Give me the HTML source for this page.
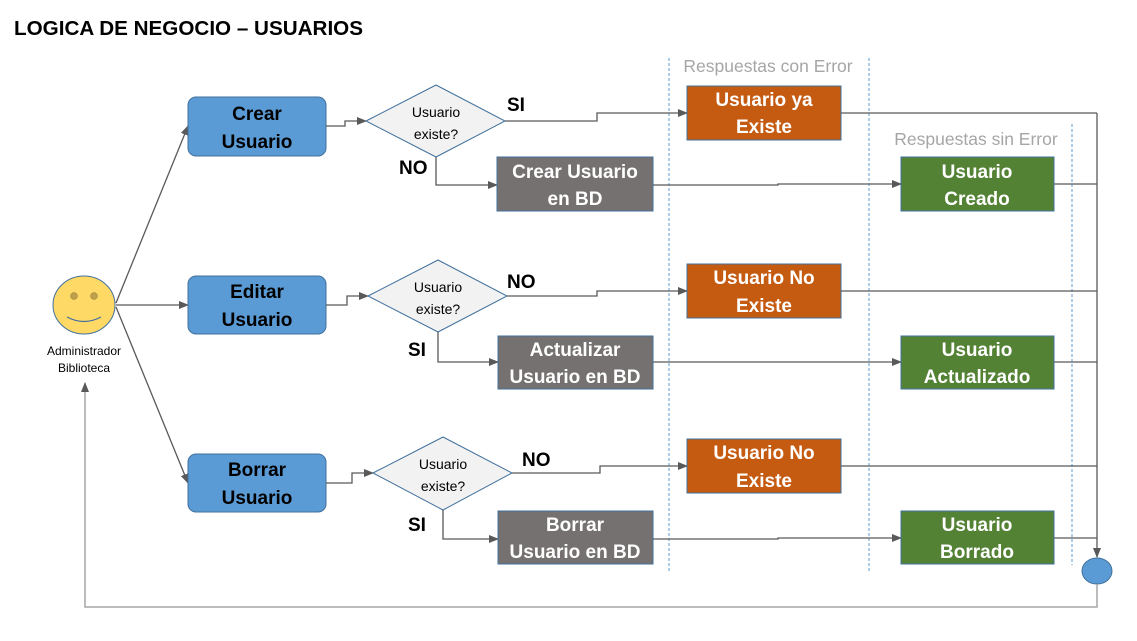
<!DOCTYPE html>
<html><head><meta charset="utf-8"><style>
body{margin:0;background:#fff}
svg{display:block}
text{font-family:"Liberation Sans",sans-serif}
.b{font-weight:bold;font-size:19px}
.w{fill:#fff;font-weight:bold;font-size:19px}
.ln{fill:none;stroke:#595959;stroke-width:1.3}
.dash{stroke:#5B9BD5;stroke-width:1;stroke-dasharray:3,2}
</style></head><body>
<svg width="1137" height="641" viewBox="0 0 1137 641">
<defs><marker id="a" markerWidth="10" markerHeight="8" refX="9" refY="4" orient="auto" markerUnits="userSpaceOnUse"><path d="M0,0L10,4L0,8z" fill="#595959"/></marker></defs>
<text x="14" y="35" font-weight="bold" font-size="20.5" textLength="349" lengthAdjust="spacingAndGlyphs">LOGICA DE NEGOCIO – USUARIOS</text>
<line class="dash" x1="669" y1="58" x2="669" y2="572"/>
<line class="dash" x1="869" y1="58" x2="869" y2="572"/>
<line class="dash" x1="1072" y1="124" x2="1072" y2="565"/>
<text x="768" y="72" text-anchor="middle" fill="#A6A6A6" font-size="17.5">Respuestas con Error</text>
<text x="976" y="145" text-anchor="middle" fill="#A6A6A6" font-size="17.5">Respuestas sin Error</text>
<!-- actor -->
<ellipse cx="84" cy="305" rx="31" ry="29" fill="#FFD966" stroke="#41719C"/>
<circle cx="74" cy="296" r="3.5" fill="#BFA04A" stroke="#8f7a3a" stroke-width=".5"/>
<circle cx="94" cy="296" r="3.5" fill="#BFA04A" stroke="#8f7a3a" stroke-width=".5"/>
<path d="M67,317 Q84,326 101,317" fill="none" stroke="#41719C" stroke-width="1.2"/>
<text x="84" y="355" text-anchor="middle" font-size="12">Administrador</text>
<text x="84" y="372" text-anchor="middle" font-size="12">Biblioteca</text>
<path class="ln" d="M116,303L188,126" marker-end="url(#a)"/>
<path class="ln" d="M116,305L188,305" marker-end="url(#a)"/>
<path class="ln" d="M116,307L188,483" marker-end="url(#a)"/>
<!-- blue boxes -->
<g fill="#5B9BD5" stroke="#41719C">
<rect x="188" y="97" width="138" height="59" rx="8"/>
<rect x="188" y="276" width="138" height="58" rx="8"/>
<rect x="188" y="454" width="138" height="58" rx="8"/>
</g>
<g class="b" text-anchor="middle">
<text x="257" y="120">Crear</text><text x="257" y="148">Usuario</text>
<text x="257" y="298">Editar</text><text x="257" y="326">Usuario</text>
<text x="257" y="476">Borrar</text><text x="257" y="504">Usuario</text>
</g>
<path class="ln" d="M326,126H345V121H366" marker-end="url(#a)"/>
<path class="ln" d="M326,305H347V296H368" marker-end="url(#a)"/>
<path class="ln" d="M326,483H352V473H373" marker-end="url(#a)"/>
<!-- diamonds -->
<g fill="#F2F2F2" stroke="#41719C">
<polygon points="366,121 436,85 505,121 436,157"/>
<polygon points="368,296 438,260 507,296 438,332"/>
<polygon points="373,473 443,437 512,473 443,510"/>
</g>
<g font-size="14" text-anchor="middle">
<text x="436" y="117">Usuario</text><text x="436" y="139">existe?</text>
<text x="438" y="292">Usuario</text><text x="438" y="314">existe?</text>
<text x="443" y="469">Usuario</text><text x="443" y="491">existe?</text>
</g>
<g class="b">
<text x="507" y="111">SI</text><text x="399" y="174">NO</text>
<text x="507" y="288">NO</text><text x="408" y="356">SI</text>
<text x="522" y="466">NO</text><text x="408" y="531">SI</text>
</g>
<path class="ln" d="M505,121H597V113H687" marker-end="url(#a)"/>
<path class="ln" d="M436,157V185H497" marker-end="url(#a)"/>
<path class="ln" d="M507,296H597V291H687" marker-end="url(#a)"/>
<path class="ln" d="M438,332V362H498" marker-end="url(#a)"/>
<path class="ln" d="M512,473H600V466H687" marker-end="url(#a)"/>
<path class="ln" d="M443,510V539H498" marker-end="url(#a)"/>
<path class="ln" d="M653,185H778V184H901" marker-end="url(#a)"/>
<path class="ln" d="M653,362H901" marker-end="url(#a)"/>
<path class="ln" d="M653,539H778V538H901" marker-end="url(#a)"/>
<!-- outputs to right -->
<path class="ln" d="M841,113H1097M841,291H1097M841,466H1097M1054,184H1097M1054,362H1097M1054,538H1097"/>
<path class="ln" d="M1097,113V557" marker-end="url(#a)"/>
<ellipse cx="1097" cy="571" rx="15" ry="13" fill="#5B9BD5" stroke="#41719C"/>
<path d="M1097,584V607H85V383" fill="none" stroke="#A6A6A6" stroke-width="1.5" marker-end="url(#a)"/>
<!-- gray -->
<g fill="#767171" stroke="#41719C">
<rect x="497" y="157" width="156" height="54"/>
<rect x="498" y="336" width="155" height="53"/>
<rect x="498" y="511" width="155" height="53"/>
</g>
<!-- orange -->
<g fill="#C55A11" stroke="#41719C">
<rect x="687" y="86" width="154" height="54"/>
<rect x="687" y="264" width="154" height="54"/>
<rect x="687" y="439" width="154" height="54"/>
</g>
<!-- green -->
<g fill="#548235" stroke="#41719C">
<rect x="901" y="157" width="153" height="54"/>
<rect x="901" y="336" width="153" height="53"/>
<rect x="901" y="511" width="153" height="53"/>
</g>
<g class="w" text-anchor="middle">
<text x="575" y="178">Crear Usuario</text><text x="575" y="205">en BD</text>
<text x="575" y="356">Actualizar</text><text x="575" y="383">Usuario en BD</text>
<text x="575" y="531">Borrar</text><text x="575" y="558">Usuario en BD</text>
<text x="764" y="106">Usuario ya</text><text x="764" y="133">Existe</text>
<text x="764" y="284">Usuario No</text><text x="764" y="312">Existe</text>
<text x="764" y="459">Usuario No</text><text x="764" y="487">Existe</text>
<text x="977" y="178">Usuario</text><text x="977" y="205">Creado</text>
<text x="977" y="356">Usuario</text><text x="977" y="383">Actualizado</text>
<text x="977" y="531">Usuario</text><text x="977" y="558">Borrado</text>
</g>
</svg>
</body></html>
